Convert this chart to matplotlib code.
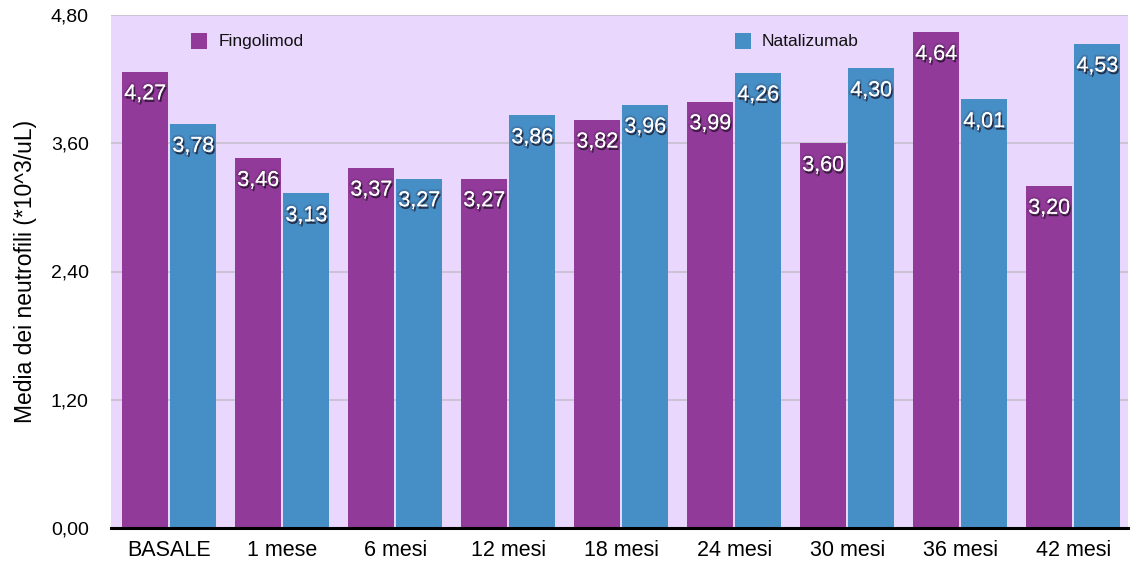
import matplotlib.pyplot as plt
import matplotlib.patheffects as pe
import numpy as np

categories = ["BASALE", "1 mese", "6 mesi", "12 mesi", "18 mesi",
              "24 mesi", "30 mesi", "36 mesi", "42 mesi"]
fingolimod = [4.27, 3.46, 3.37, 3.27, 3.82, 3.99, 3.60, 4.64, 3.20]
natalizumab = [3.78, 3.13, 3.27, 3.86, 3.96, 4.26, 4.30, 4.01, 4.53]
yticks = [0.0, 1.2, 2.4, 3.6, 4.8]

purple = "#923a9a"
blue = "#468ec6"
lavender = "#e9d7fd"

plt.rcParams["font.family"] = ["Liberation Sans", "DejaVu Sans"]

fig = plt.figure(figsize=(11.31, 5.64), dpi=100)
ax = fig.add_axes([111 / 1131, 36 / 564, 1017 / 1131, 513 / 564])
ax.set_facecolor(lavender)

x = np.arange(len(categories))
w = 0.407
off = w / 2 + 0.009
b1 = ax.bar(x - off + 0.015, fingolimod, w, color=purple, zorder=3)
b2 = ax.bar(x + off + 0.015, natalizumab, w, color=blue, zorder=3)

for bars, vals in ((b1, fingolimod), (b2, natalizumab)):
    for rect, v in zip(bars, vals):
        t = ax.annotate(f"{v:.2f}".replace(".", ","),
                        (rect.get_x() + rect.get_width() / 2, v),
                        xytext=(0, -16), textcoords="offset points",
                        ha="center", va="center", color="white", fontsize=15.5,
                        zorder=5)
        t.set_path_effects([
            pe.withStroke(linewidth=3, foreground="#2a1a30", alpha=0.18),
            pe.SimplePatchShadow(offset=(1, -1.8), shadow_rgbFace="#1a1020", alpha=0.75),
            pe.Normal()])

ax.set_xlim(-0.5, len(categories) - 0.5)
ax.set_ylim(0, 4.8)
ax.set_yticks(yticks)
ax.set_yticklabels([f"{v:.2f}".replace(".", ",") for v in yticks], fontsize=14)
ax.set_xticks(x + 0.015)
ax.set_xticklabels(categories, fontsize=15.5)
ax.tick_params(length=0, pad=9)
ax.tick_params(axis="y", pad=16)
ax.yaxis.grid(True, color="#c8c0d0", linewidth=1.2, zorder=1)
for s in ("top", "right", "left"):
    ax.spines[s].set_visible(False)
ax.spines["bottom"].set_linewidth(2.2)
ax.spines["bottom"].set_zorder(6)
ax.set_ylabel("Media dei neutrofili (*10^3/uL)", fontsize=16.5, labelpad=10)

# legend entries placed by hand inside the plot area
for xs, label, c in ((0.087, "Fingolimod", purple), (0.621, "Natalizumab", blue)):
    ax.scatter([xs], [0.949], marker="s", s=135, color=c, transform=ax.transAxes, zorder=6,
               clip_on=False, linewidths=0)
    ax.text(xs + 0.019, 0.949, label, transform=ax.transAxes, va="center", ha="left",
            fontsize=12.5, color="#111111", zorder=6)

fig.savefig("out.png", dpi=100)
